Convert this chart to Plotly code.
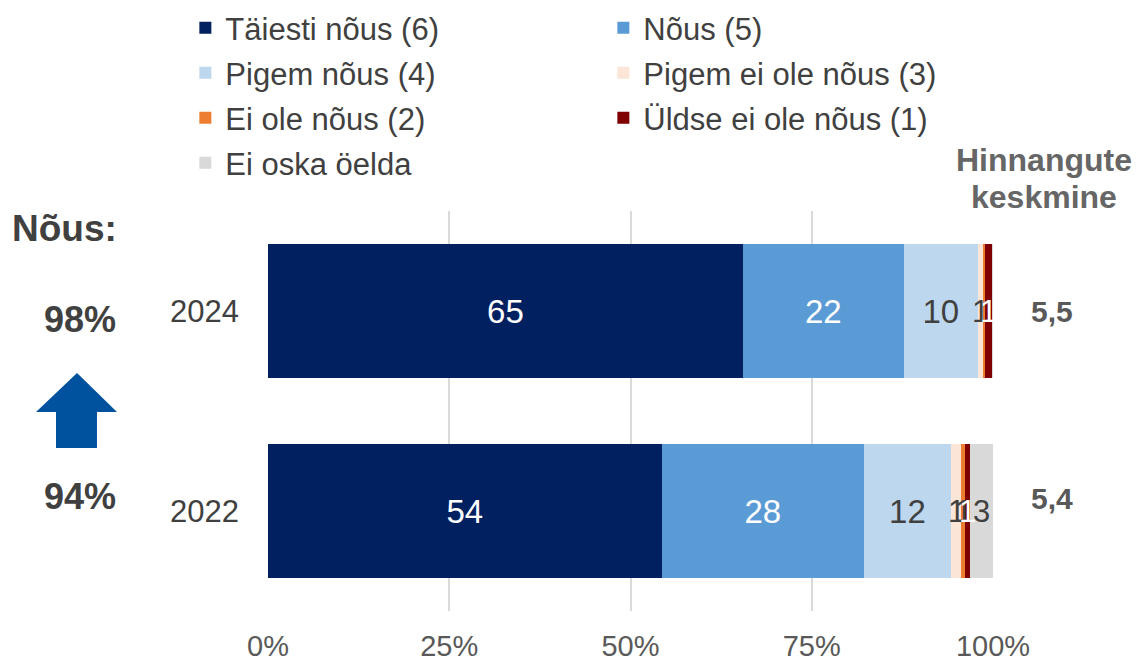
import plotly.graph_objects as go

# ---- data ----
years = ["2024", "2022"]
category_order = ["2022", "2024"]  # bottom to top
series_names = ["Täiesti nõus (6)", "Nõus (5)", "Pigem nõus (4)", "Pigem ei ole nõus (3)",
                "Ei ole nõus (2)", "Üldse ei ole nõus (1)", "Ei oska öelda"]
taiesti = [65.5, 54.3]
nous = [22.2, 27.9]
pigem_nous = [10.2, 12.0]
pigem_ei = [0.8, 1.4]
ei_ole = [0.2, 0.6]
uldse_ei = [1.0, 0.6]
ei_oska = [0.1, 3.2]

lbl_taiesti = ["65", "54"]
lbl_nous = ["22", "28"]
lbl_pigem_nous = ["10", "12"]
lbl_pigem_ei = ["1", "1"]
lbl_ei_ole = ["", "1"]
lbl_uldse_ei = ["1", "1"]
lbl_ei_oska = ["", "3"]

x_ticks = [0, 25, 50, 75, 100]
x_tick_labels = ["0%", "25%", "50%", "75%", "100%"]

nous_total = ["98%", "94%"]
keskmine = ["5,5", "5,4"]

colors = ["#002060", "#5b9bd5", "#bdd7ee", "#fbe5d6", "#ed7d31", "#7f0000", "#d9d9d9"]
values = [taiesti, nous, pigem_nous, pigem_ei, ei_ole, uldse_ei, ei_oska]
labels = [lbl_taiesti, lbl_nous, lbl_pigem_nous, lbl_pigem_ei, lbl_ei_ole, lbl_uldse_ei, lbl_ei_oska]
inside = [True, True, True, False, False, False, False]
txtcol = ["white", "white", "#404040", "#404040", "#404040", "white", "#404040"]
legend_ids = ["legend", "legend", "legend2", "legend2", "legend3", "legend3", "legend4"]

FONT = "Liberation Sans, Arial, sans-serif"

fig = go.Figure()
for name, vals, lab, col, ins, tc, lg in zip(series_names, values, labels, colors, inside, txtcol, legend_ids):
    fig.add_trace(go.Bar(
        y=years, x=vals, orientation="h", name=name, legend=lg,
        marker=dict(color=col, line=dict(width=0)),
        text=lab if ins else None,
        textposition="inside" if ins else "none",
        insidetextanchor="middle", textangle=0,
        textfont=dict(color=tc, size=33, family=FONT),
        hoverinfo="skip",
    ))

# labels for thin segments, positioned from the data
for yi, yr in enumerate(years):
    ycat = category_order.index(yr)
    cum = 0.0
    for vals, lab, ins, tc in zip(values, labels, inside, txtcol):
        v = vals[yi]
        if not ins and lab[yi]:
            fig.add_annotation(x=cum + v / 2, y=ycat, xref="x", yref="y", text=lab[yi],
                               xanchor="center", yanchor="middle",
                               showarrow=False, font=dict(size=31, color=tc, family=FONT))
        cum += v

def px(xp):
    return (xp - 268) / 725.0
def py(yp):
    return (611 - yp) / 400.0

# left: share agreeing
fig.add_annotation(x=-0.281, y=0.957, xref="paper", yref="paper", text="<b>Nõus:</b>",
                   xanchor="center", yanchor="middle",
                   showarrow=False, font=dict(size=37, color="#404040", family=FONT))
for yr, t in zip(years, nous_total):
    ycat = category_order.index(yr)
    fig.add_annotation(x=-0.259, y=ycat, xref="paper", yref="y", text=f"<b>{t}</b>",
                       xanchor="center", yanchor="middle",
                       showarrow=False, yshift=-8 if yr == "2024" else 15,
                       font=dict(size=36, color="#404040", family=FONT))

# right: average rating
for line, ypx in zip(["Hinnangute", "keskmine"], [160, 197]):
    fig.add_annotation(x=1.07, y=py(ypx), xref="paper", yref="paper",
                       xanchor="center", yanchor="middle",
                       text=f"<b>{line}</b>", showarrow=False,
                       font=dict(size=32, color="#666666", family=FONT))
for yr, t in zip(years, keskmine):
    ycat = category_order.index(yr)
    fig.add_annotation(x=1.081, y=ycat, xref="paper", yref="y", text=f"<b>{t}</b>",
                       xanchor="center", yanchor="middle",
                       showarrow=False, yshift=0 if yr == "2024" else 13,
                       font=dict(size=30, color="#595959", family=FONT))

# arrow (decorative shape)
pts = [(77, 373), (117, 412), (97, 412), (97, 448), (56, 448), (56, 412), (36, 412)]
path = "M " + " L ".join(f"{px(a):.4f},{py(b):.4f}" for a, b in pts) + " Z"
fig.add_shape(type="path", path=path, xref="paper", yref="paper",
              fillcolor="#00519e", line=dict(width=0))

legend_common = dict(orientation="h", x=-0.114, xanchor="left", yanchor="middle",
                     entrywidth=373, traceorder="normal",
                     font=dict(size=31, color="#404040", family=FONT),
                     bgcolor="rgba(0,0,0,0)")
row_centers = [28, 73, 118, 163]

fig.update_layout(
    barmode="stack", bargap=0.33,
    width=1143, height=663,
    margin=dict(l=268, r=150, t=211, b=52, autoexpand=False),
    plot_bgcolor="white", paper_bgcolor="white",
    font=dict(family=FONT, color="#404040"),
    showlegend=True,
    legend=dict(y=py(row_centers[0]), **legend_common),
    legend2=dict(y=py(row_centers[1]), **legend_common),
    legend3=dict(y=py(row_centers[2]), **legend_common),
    legend4=dict(y=py(row_centers[3]), **legend_common),
    xaxis=dict(range=[0, 100], tickmode="array", tickvals=x_ticks, ticktext=x_tick_labels,
               showgrid=True, gridcolor="#d9d9d9", gridwidth=2, zeroline=False,
               showline=False, ticks="", ticklabelstandoff=15,
               tickfont=dict(size=29, color="#595959", family=FONT), fixedrange=True),
    yaxis=dict(type="category", categoryorder="array", categoryarray=category_order,
               range=[-0.5, 1.5], showgrid=False, zeroline=False, showline=False,
               ticks="", ticklabelstandoff=28,
               tickfont=dict(size=31, color="#404040", family=FONT), fixedrange=True),
)

fig.write_html("out.html", config={"displayModeBar": False},
               post_script="document.body.style.margin='0';")
